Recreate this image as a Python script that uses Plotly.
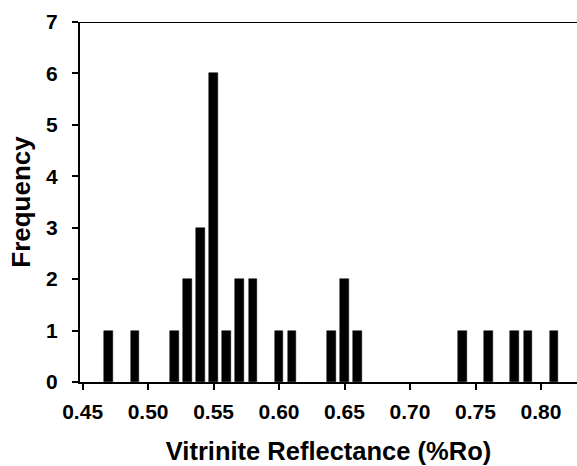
import plotly.graph_objects as go

# Vitrinite reflectance histogram (bin centre, %Ro) and counts
reflectance = [0.47, 0.49, 0.52, 0.53, 0.54, 0.55, 0.56, 0.57, 0.58, 0.60,
               0.61, 0.64, 0.65, 0.66, 0.74, 0.76, 0.78, 0.79, 0.81]
frequency = [1, 1, 1, 2, 3, 6, 1, 2, 2, 1,
             1, 1, 2, 1, 1, 1, 1, 1, 1]

x_ticks = [0.45, 0.50, 0.55, 0.60, 0.65, 0.70, 0.75, 0.80]
y_ticks = [0, 1, 2, 3, 4, 5, 6, 7]

FONT = "Liberation Sans, Arial, sans-serif"

fig = go.Figure(
    go.Bar(
        x=reflectance,
        y=frequency,
        width=0.0066,
        marker=dict(color="black", line=dict(color="black", width=0.5)),
    )
)

fig.update_layout(
    width=577,
    height=466,
    margin=dict(l=80, r=0, t=22, b=84),
    paper_bgcolor="white",
    plot_bgcolor="white",
    showlegend=False,
    font=dict(family=FONT, color="black"),
    xaxis=dict(
        range=[0.448, 0.8275],
        tickvals=x_ticks,
        ticktext=[f"{v:.2f}" for v in x_ticks],
        ticks="outside",
        ticklen=6,
        tickwidth=2,
        tickcolor="black",
        showline=True,
        linecolor="black",
        linewidth=2,
        showgrid=False,
        zeroline=False,
        ticklabelstandoff=4,
        tickfont=dict(size=21, family=FONT, weight="bold"),
        title=dict(
            text="Vitrinite Reflectance (%Ro)",
            font=dict(size=25.5, family=FONT, weight="bold"),
            standoff=20,
        ),
    ),
    yaxis=dict(
        range=[0, 7],
        tickvals=y_ticks,
        ticks="outside",
        ticklen=6,
        tickwidth=2,
        tickcolor="black",
        showline=True,
        linecolor="black",
        linewidth=2,
        showgrid=False,
        zeroline=False,
        ticklabelstandoff=10,
        tickfont=dict(size=21, family=FONT, weight="bold"),
        title=dict(
            text="Frequency",
            font=dict(size=26, family=FONT, weight="bold"),
            standoff=8,
        ),
    ),
    bargap=0,
)

# Top frame line of the plot box
fig.add_shape(
    type="line",
    xref="paper",
    yref="y",
    x0=0,
    x1=1,
    y0=7,
    y1=7,
    line=dict(color="black", width=2),
)

fig.write_html("out.html")
